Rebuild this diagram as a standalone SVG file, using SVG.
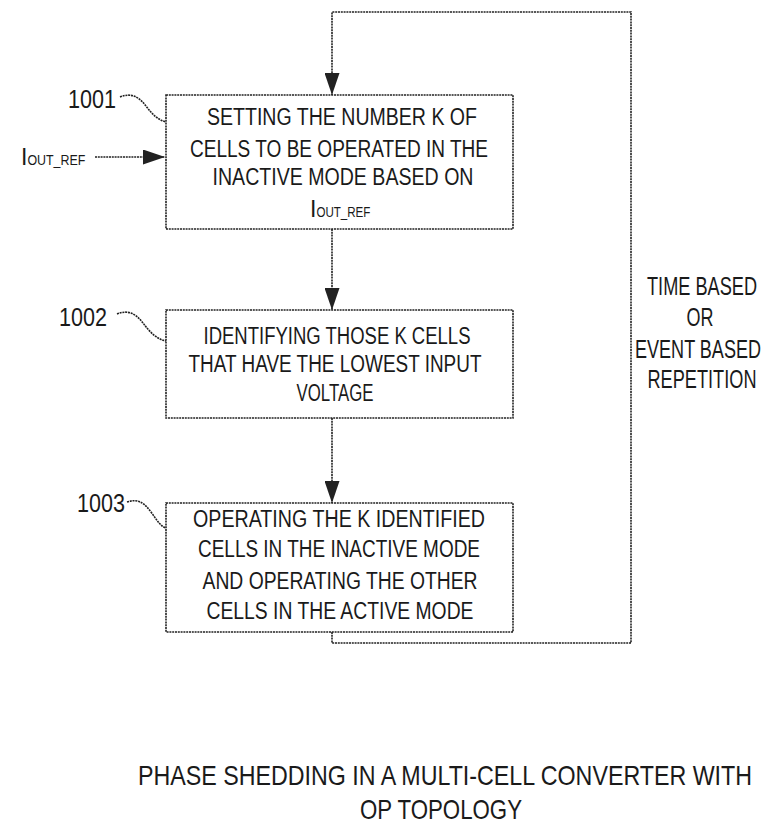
<svg xmlns="http://www.w3.org/2000/svg" width="775" height="825" viewBox="0 0 775 825">
<defs>
<style>
.box{fill:#fff;stroke:#222;stroke-width:1.6;stroke-dasharray:2 0.8}
.ln{fill:none;stroke:#222;stroke-width:1.6;stroke-dasharray:2 0.8}
.t{font-family:"Liberation Sans",Arial,sans-serif;font-size:23px;fill:#1a1a1a}
.lbl{font-family:"Liberation Sans",Arial,sans-serif;font-size:25px;fill:#1a1a1a}
.ttl{font-family:"Liberation Sans",Arial,sans-serif;font-size:28px;fill:#1a1a1a}
.sub{font-family:"Liberation Sans",Arial,sans-serif;font-size:15px;fill:#1a1a1a}
</style>
<marker id="ah" viewBox="0 0 22 15" refX="22" refY="7.5" markerWidth="22" markerHeight="15" markerUnits="userSpaceOnUse" orient="auto">
<path d="M0,0 L22,7.5 L0,15 Z" fill="#222"/>
</marker>
</defs>
<rect width="775" height="825" fill="#fff"/>
<g id="connectors">
<path class="ln" d="M332,632 V643 H631 V12 H332 V95" marker-end="url(#ah)"/>
<path class="ln" d="M332,229 V310" marker-end="url(#ah)"/>
<path class="ln" d="M332,418 V503" marker-end="url(#ah)"/>
<path class="ln" d="M95,157 H165" marker-end="url(#ah)"/>
<path class="ln" d="M120,97 C132,92 140,98 146,106 S158,120 166,122"/>
<path class="ln" d="M117,314 C129,309 137,315 143,323 S156,339 166,341"/>
<path class="ln" d="M127,502 C139,498 145,504 151,512 S160,526 166,528"/>
</g>
<g id="n1001">
<rect class="box" x="166" y="95" width="347" height="134"/>
<text class="t" x="342" y="125" text-anchor="middle" textLength="270" lengthAdjust="spacingAndGlyphs">SETTING THE NUMBER K OF</text>
<text class="t" x="339" y="157" text-anchor="middle" textLength="298" lengthAdjust="spacingAndGlyphs">CELLS TO BE OPERATED IN THE</text>
<text class="t" x="343" y="185" text-anchor="middle" textLength="261" lengthAdjust="spacingAndGlyphs">INACTIVE MODE BASED ON</text>
<text x="310" y="217"><tspan class="t">I</tspan><tspan class="sub" textLength="54" lengthAdjust="spacingAndGlyphs">OUT_REF</tspan></text>
</g>
<g id="lbl1001"><text class="lbl" x="68" y="108" textLength="48" lengthAdjust="spacingAndGlyphs">1001</text></g>
<g id="input">
<text x="21" y="165"><tspan class="t">I</tspan><tspan class="sub" textLength="58" lengthAdjust="spacingAndGlyphs">OUT_REF</tspan></text>
</g>
<g id="n1002">
<rect class="box" x="166" y="310" width="347" height="108"/>
<text class="t" x="337" y="344" text-anchor="middle" textLength="267" lengthAdjust="spacingAndGlyphs">IDENTIFYING THOSE K CELLS</text>
<text class="t" x="335" y="372" text-anchor="middle" textLength="293" lengthAdjust="spacingAndGlyphs">THAT HAVE THE LOWEST  INPUT</text>
<text class="t" x="335" y="401" text-anchor="middle" textLength="77" lengthAdjust="spacingAndGlyphs">VOLTAGE</text>
</g>
<g id="lbl1002"><text class="lbl" x="59" y="326" textLength="48" lengthAdjust="spacingAndGlyphs">1002</text></g>
<g id="n1003">
<rect class="box" x="166" y="503" width="347" height="129"/>
<text class="t" x="339" y="527" text-anchor="middle" textLength="292" lengthAdjust="spacingAndGlyphs">OPERATING THE K  IDENTIFIED</text>
<text class="t" x="339" y="557" text-anchor="middle" textLength="282" lengthAdjust="spacingAndGlyphs">CELLS IN THE INACTIVE MODE</text>
<text class="t" x="340" y="589" text-anchor="middle" textLength="275" lengthAdjust="spacingAndGlyphs">AND OPERATING THE OTHER</text>
<text class="t" x="340" y="619" text-anchor="middle" textLength="267" lengthAdjust="spacingAndGlyphs">CELLS IN THE ACTIVE MODE</text>
</g>
<g id="lbl1003"><text class="lbl" x="77" y="512" textLength="48" lengthAdjust="spacingAndGlyphs">1003</text></g>
<g id="repeat">
<text class="lbl" x="702" y="295" text-anchor="middle" textLength="110" lengthAdjust="spacingAndGlyphs">TIME BASED</text>
<text class="lbl" x="700" y="326" text-anchor="middle" textLength="27" lengthAdjust="spacingAndGlyphs">OR</text>
<text class="lbl" x="698" y="358" text-anchor="middle" textLength="126" lengthAdjust="spacingAndGlyphs">EVENT BASED</text>
<text class="lbl" x="702" y="388" text-anchor="middle" textLength="109" lengthAdjust="spacingAndGlyphs">REPETITION</text>
</g>
<g id="title">
<text class="ttl" x="445" y="785" text-anchor="middle" textLength="614" lengthAdjust="spacingAndGlyphs">PHASE SHEDDING IN A MULTI-CELL CONVERTER WITH</text>
<text class="ttl" x="441" y="819" text-anchor="middle" textLength="162" lengthAdjust="spacingAndGlyphs">OP TOPOLOGY</text>
</g>
</svg>
